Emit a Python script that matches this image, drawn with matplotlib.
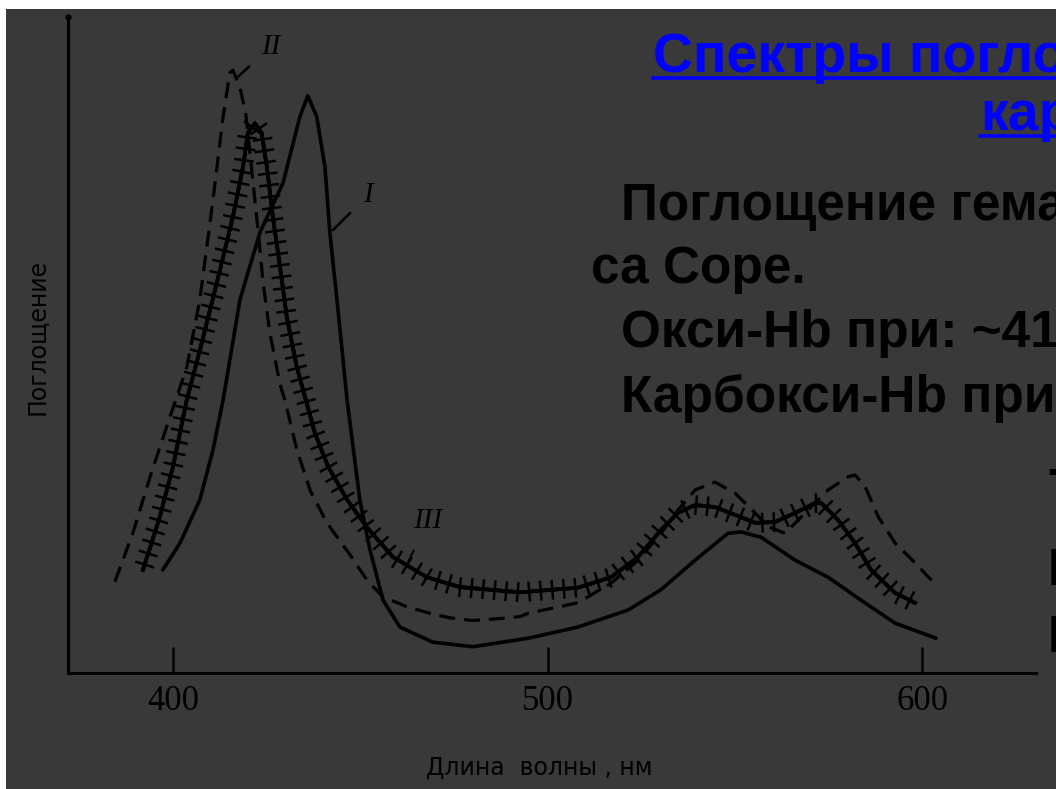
import matplotlib
matplotlib.use("Agg")
import matplotlib.pyplot as plt
import matplotlib.patheffects as pe
from matplotlib.patches import Rectangle
from matplotlib.lines import Line2D

# Кривая I (сплошная)
lam_I = [397.3, 401.9, 407.2, 410.7, 413.4, 417.9, 423.2, 429.4, 433.9, 436.0,
         438.4, 440.6, 441.9, 443.8, 446.5, 449.9, 452.6, 456.1, 460.6, 469.4,
         480.1, 494.8, 508.1, 521.5, 530.3, 539.4, 548.2, 551.7, 557.0, 566.1,
         574.9, 583.7, 592.8, 603.7]
abs_I = [0.157, 0.198, 0.264, 0.340, 0.416, 0.569, 0.671, 0.747, 0.848, 0.880,
         0.848, 0.771, 0.671, 0.569, 0.416, 0.264, 0.188, 0.111, 0.070, 0.047,
         0.040, 0.053, 0.070, 0.096, 0.127, 0.172, 0.213, 0.215, 0.207, 0.172,
         0.146, 0.111, 0.076, 0.053]

# Кривая II (штриховая)
lam_II = [384.5, 389.3, 393.9, 399.2, 403.7, 407.2, 410.7, 413.4, 415.2, 416.0,
          417.9, 419.5, 421.4, 422.8, 424.1, 425.9, 428.6, 429.9, 433.1, 436.6,
          441.1, 447.3, 452.0, 456.1, 462.5, 468.6, 474.0, 480.0, 487.3, 492.7,
          494.8, 508.1, 517.0, 524.2, 530.3, 534.8, 539.4, 544.7, 550.1, 555.4,
          558.9, 563.4, 568.8, 574.9, 580.2, 582.1, 584.8, 588.3, 592.8, 598.1,
          602.9]
abs_II = [0.139, 0.213, 0.299, 0.390, 0.466, 0.569, 0.721, 0.848, 0.915, 0.919,
          0.893, 0.850, 0.747, 0.671, 0.594, 0.518, 0.440, 0.416, 0.340, 0.279,
          0.229, 0.180, 0.140, 0.116, 0.101, 0.091, 0.084, 0.080, 0.083, 0.086,
          0.091, 0.107, 0.137, 0.172, 0.213, 0.248, 0.279, 0.291, 0.274, 0.244,
          0.223, 0.213, 0.244, 0.279, 0.299, 0.302, 0.284, 0.238, 0.198, 0.168,
          0.139]

# Кривая III (сплошная со штрихами)
lam_III = [392.0, 396.5, 400.0, 403.7, 407.2, 411.7, 416.0, 418.7, 420.0, 421.9,
           423.7, 425.1, 426.7, 428.6, 430.4, 433.1, 435.5, 437.9, 441.4, 446.5,
           451.8, 458.7, 467.8, 476.6, 492.7, 508.1, 517.0, 524.2, 530.3, 534.8,
           539.4, 544.7, 550.1, 555.4, 560.7, 566.1, 571.4, 573.1, 577.6, 582.1,
           586.4, 592.8, 598.1]
abs_III = [0.157, 0.238, 0.314, 0.416, 0.492, 0.594, 0.695, 0.771, 0.823, 0.838,
           0.823, 0.771, 0.695, 0.619, 0.543, 0.466, 0.416, 0.366, 0.315, 0.264,
           0.222, 0.177, 0.146, 0.131, 0.123, 0.130, 0.146, 0.177, 0.218, 0.244,
           0.256, 0.253, 0.241, 0.229, 0.230, 0.244, 0.259, 0.259, 0.233, 0.198,
           0.157, 0.122, 0.107]

ticks_x = [400, 500, 600]

fondo = "#393939"
W, H = 1056, 789

fig = plt.figure(figsize=(W / 100, H / 100), dpi=100, facecolor="white")
fig.patches.append(Rectangle((6 / W, 0), 1, 1 - 9 / H, transform=fig.transFigure,
                             facecolor=fondo, edgecolor="none", zorder=-10))

ax = fig.add_axes([68 / W, 1 - 673 / H, (1036 - 68) / W, (673 - 17) / H])
ax.set_facecolor("none")
ax.set_xlim(372, 630.4)
ax.set_ylim(0, 1)

ax.plot(lam_I, abs_I, color="black", lw=2.6, solid_capstyle="round", solid_joinstyle="round")
ax.plot(lam_II, abs_II, color="black", lw=2.3, dashes=(5, 2.8))
ax.plot(lam_III, abs_III, color="black", lw=2.6, solid_joinstyle="round",
        path_effects=[pe.withTickedStroke(spacing=8.3, angle=90, length=0.75, linewidth=1.8),
                      pe.withTickedStroke(spacing=8.3, angle=-90, length=0.75, linewidth=1.8),
                      pe.Normal()])

# подписи кривых
lbl = dict(color="black", fontsize=21, family="Liberation Serif", style="italic")
ax.annotate("II", xy=(417.4, 0.909), xytext=(426.2, 0.955), ha="center", va="center",
            arrowprops=dict(arrowstyle="-", color="black", lw=1.8, shrinkB=0, shrinkA=9), **lbl)
ax.annotate("I", xy=(442.7, 0.675), xytext=(452.0, 0.728), ha="center", va="center",
            arrowprops=dict(arrowstyle="-", color="black", lw=1.8, shrinkB=0, shrinkA=10), **lbl)
ax.annotate("III", xy=(462.7, 0.168), xytext=(468.0, 0.232), ha="center", va="center",
            arrowprops=dict(arrowstyle="-", color="black", lw=1.4, shrinkB=0, shrinkA=11), **lbl)

for s in ["top", "right"]:
    ax.spines[s].set_visible(False)
for s in ["left", "bottom"]:
    ax.spines[s].set_linewidth(2.2)
    ax.spines[s].set_color("black")
ax.plot([372], [1], "ko", ms=3.5, clip_on=False)

ax.set_xticks(ticks_x)
ax.set_xticklabels([str(t) for t in ticks_x], family="Liberation Serif", fontsize=25)
ax.set_yticks([])
ax.tick_params(axis="x", direction="in", length=19, width=1.8, pad=9, colors="black")

ax.set_xlabel("Длина  волны , нм", fontsize=17, color="black")
ax.xaxis.set_label_coords((539 - 68) / (1036 - 68), -(768 - 673) / (673 - 17))
ax.set_ylabel("Поглощение", fontsize=17, color="black")
ax.yaxis.set_label_coords(-(68 - 37) / (1036 - 68), (673 - 337) / (673 - 17))
ax.xaxis.label.set_va("center")
ax.yaxis.label.set_va("center")

# текст слайда
blue = "#0000ff"
titles = [(653, 72, "Спектры поглощения оксигемоглобина и"),
          (980, 130, "карбоксигемоглобина")]
body = [(621, 220, "Поглощение гема – поло"),
        (591, 283, "са Соре."),
        (621, 347, "Окси-Hb при: ~415 нм"),
        (621, 412, "Карбокси-Hb при: ~420 нм"),
        (1048, 505, "Т"),
        (1048, 585, "П"),
        (1048, 652, "П")]

fig.canvas.draw()
rend = fig.canvas.get_renderer()
for x, y, s in titles:
    t = fig.text(x / W, 1 - y / H, s, color=blue, fontsize=40, fontweight="bold",
                 family="Liberation Sans", va="baseline")
    bb = t.get_window_extent(rend)
    yl = 1 - (y + 6) / H
    fig.add_artist(Line2D([bb.x0 / W, bb.x1 / W], [yl, yl], color=blue, lw=2.6,
                          transform=fig.transFigure))
for x, y, s in body:
    fig.text(x / W, 1 - y / H, s, color="black", fontsize=37, fontweight="bold",
             family="Liberation Sans", va="baseline")

fig.savefig("out.png", dpi=100, facecolor=fig.get_facecolor())
